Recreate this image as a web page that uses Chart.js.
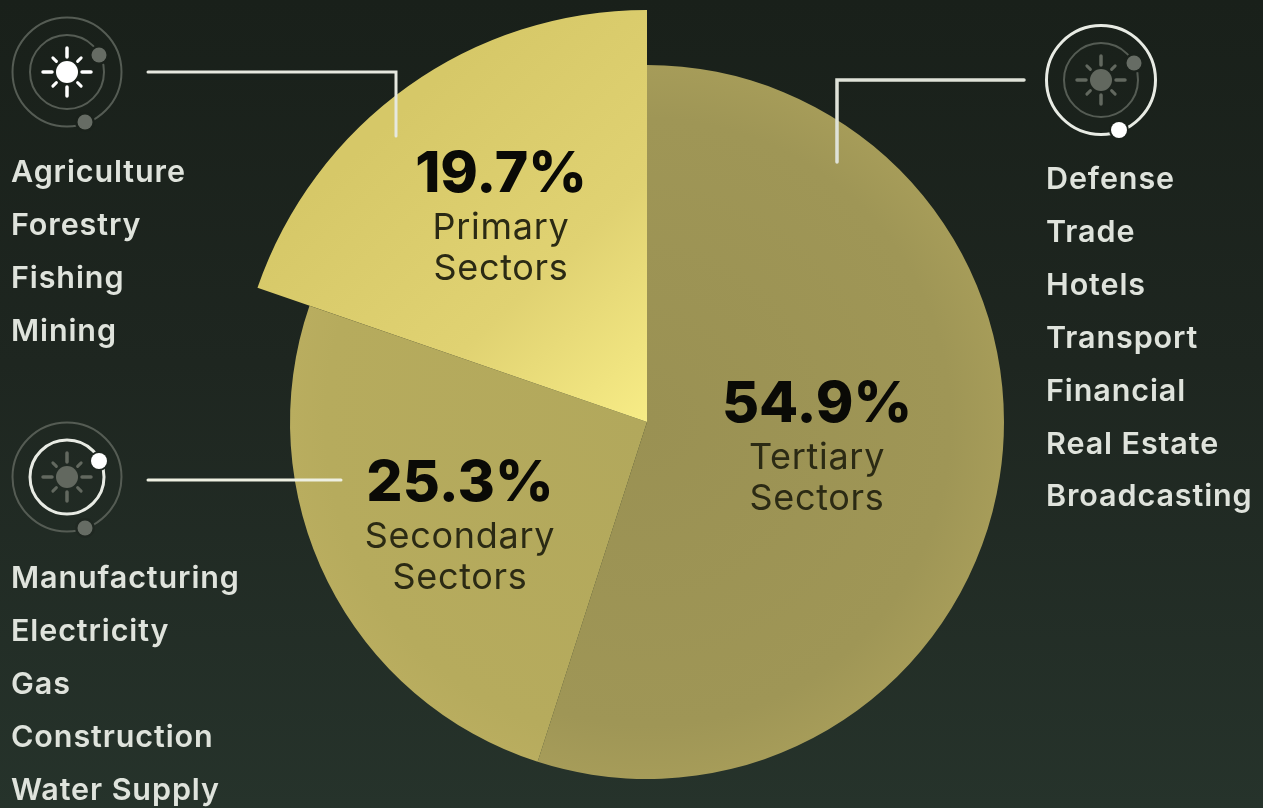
<!DOCTYPE html>
<html>
<head>
<meta charset="utf-8">
<title>Sectors</title>
<script src="https://cdn.jsdelivr.net/npm/chart.js@4"></script>
<style>
  html, body { margin: 0; padding: 0; }
  body {
    width: 1263px; height: 808px; overflow: hidden; position: relative;
    background: linear-gradient(180deg, #19201a 0%, #1e2620 45%, #26332b 100%);
    font-family: Inter, "Noto Sans", sans-serif;
  }
  #wrap { position: absolute; left: 0; top: 0; width: 1263px; height: 808px; }
  #lines { position: absolute; left: 0; top: 0; }
  .list { position: absolute; color: #dfe3dc; font-size: 30.5px; font-weight: 600; line-height: 52.9px; letter-spacing: 0.9px; white-space: nowrap; }
  .tag { position: absolute; transform: translateX(-50%); text-align: center; white-space: nowrap; }
  .tag b { display: block; font-size: 57px; font-weight: 800; line-height: 68px; color: #0a0a06; }
  .tag span { display: block; font-size: 36px; font-weight: 400; line-height: 41px; letter-spacing: 0.7px; color: #2b2a14; }
</style>
</head>
<body>
<div id="wrap"><canvas id="myChart"></canvas></div>
<svg id="lines" width="1263" height="808" fill="none" stroke-linecap="round">
  <path d="M148 72H396V136" stroke="#e6e8df" stroke-width="3"/>
  <path d="M148 480H341" stroke="#eef0e2" stroke-width="3"/>
  <path d="M1024 80H837V162" stroke="#dfe2d8" stroke-width="3.5"/>
  <g id="icon1"></g><g id="icon2"></g><g id="icon3"></g>
</svg>
<script>
var categories = ["Tertiary", "Secondary", "Primary"];
var shares = [54.9, 25.3, 19.7];
var primaryItems = ["Agriculture", "Forestry", "Fishing", "Mining"];
var secondaryItems = ["Manufacturing", "Electricity", "Gas", "Construction", "Water Supply"];
var tertiaryItems = ["Defense", "Trade", "Hotels", "Transport", "Financial", "Real Estate", "Broadcasting"];

// centre of the pie is 647,422 on the page
var CX = 647, CY = 422;

function addList(items, x, y) {
  var div = document.createElement("div");
  div.className = "list";
  div.style.left = x + "px";
  div.style.top = y + "px";
  div.innerHTML = items.join("<br>");
  document.body.appendChild(div);
}

function addTag(index, x, y) {
  var div = document.createElement("div");
  div.className = "tag";
  div.style.left = x + "px";
  div.style.top = y + "px";
  div.innerHTML = "<b>" + shares[index] + "%</b><span>" + categories[index] + "</span><span>Sectors</span>";
  document.body.appendChild(div);
}

addList(primaryItems, 11, 145);
addList(secondaryItems, 11, 551);
addList(tertiaryItems, 1046, 152);
addTag(2, 501, 138);
addTag(1, 460, 447);
addTag(0, 817, 368);

// orbit icon: rings and little planets, bright ones are the active ring
function drawIcon(id, cx, cy, outer, inner, sun, dotA, dotB, bg) {
  var dim = "#555c54";
  var sunColor = sun ? "#ffffff" : "#62685f";
  var rays = "";
  for (var a = 0; a < 8; a++) {
    var t = a * Math.PI / 4;
    var r2 = a % 2 ? 20 : 24;
    rays += '<line x1="' + (cx + 15 * Math.cos(t)) + '" y1="' + (cy + 15 * Math.sin(t)) +
      '" x2="' + (cx + r2 * Math.cos(t)) + '" y2="' + (cy + r2 * Math.sin(t)) +
      '" stroke="' + sunColor + '" stroke-width="' + (a % 2 ? 3 : 3.5) + '"/>';
  }
  document.getElementById(id).innerHTML =
    '<circle cx="' + cx + '" cy="' + cy + '" r="54.5" stroke="' + (outer ? "#e8ebe4" : dim) + '" stroke-width="' + (outer ? 3 : 2) + '"/>' +
    '<circle cx="' + cx + '" cy="' + cy + '" r="37" stroke="' + (inner ? "#e8ebe4" : dim) + '" stroke-width="' + (inner ? 3 : 2) + '"/>' +
    rays +
    '<circle cx="' + cx + '" cy="' + cy + '" r="11" fill="' + sunColor + '"/>' +
    '<circle cx="' + dotA[0] + '" cy="' + dotA[1] + '" r="10" fill="' + bg + '"/>' +
    '<circle cx="' + dotA[0] + '" cy="' + dotA[1] + '" r="' + (inner ? 8 : 7.5) + '" fill="' + (inner ? "#ffffff" : "#666c64") + '"/>' +
    '<circle cx="' + dotB[0] + '" cy="' + dotB[1] + '" r="10" fill="' + bg + '"/>' +
    '<circle cx="' + dotB[0] + '" cy="' + dotB[1] + '" r="' + (outer ? 8 : 7.5) + '" fill="' + (outer ? "#ffffff" : "#666c64") + '"/>';
}

drawIcon("icon1", 67, 72, false, false, true, [99, 55], [85, 122], "#1a211b");
drawIcon("icon2", 67, 477, false, true, false, [99, 461], [85, 528], "#1f2721");
drawIcon("icon3", 1101, 80, true, false, false, [1134, 63], [1119, 130], "#1a211b");

// primary slice pokes out past the rest of the pie
var bigSlice = {
  id: "bigSlice",
  afterDatasetUpdate: function (chart) {
    var arc = chart.getDatasetMeta(0).data[2];
    arc.outerRadius = 412;
  }
};

function sliceFill(ctx) {
  var g = ctx.chart.ctx;
  var grad;
  if (ctx.dataIndex === 2) {
    grad = g.createLinearGradient(380, 130, CX, CY);
    grad.addColorStop(0, "#d6c868");
    grad.addColorStop(0.55, "#e0d272");
    grad.addColorStop(1, "#f7ec86");
  } else if (ctx.dataIndex === 1) {
    grad = g.createRadialGradient(CX, CY, 0, CX, CY, 357);
    grad.addColorStop(0, "#b2a85c");
    grad.addColorStop(0.9, "#b6ab5d");
    grad.addColorStop(1, "#b9ad5f");
  } else {
    grad = g.createRadialGradient(CX, CY, 0, CX, CY, 357);
    grad.addColorStop(0, "#9a9153");
    grad.addColorStop(0.85, "#9f9656");
    grad.addColorStop(1, "#a69c59");
  }
  return grad;
}

new Chart("myChart", {
  type: "pie",
  data: {
    labels: categories,
    datasets: [
      {
        data: shares,
        backgroundColor: sliceFill,
        borderWidth: 0,
      },
    ],
  },
  options: {
    responsive: true,
    maintainAspectRatio: false,
    animation: false,
    radius: 357,
    layout: { padding: { left: 31, top: 36 } },
    plugins: { legend: { display: false }, tooltip: { enabled: false } },
  },
  plugins: [bigSlice],
});
</script>
</body>
</html>
